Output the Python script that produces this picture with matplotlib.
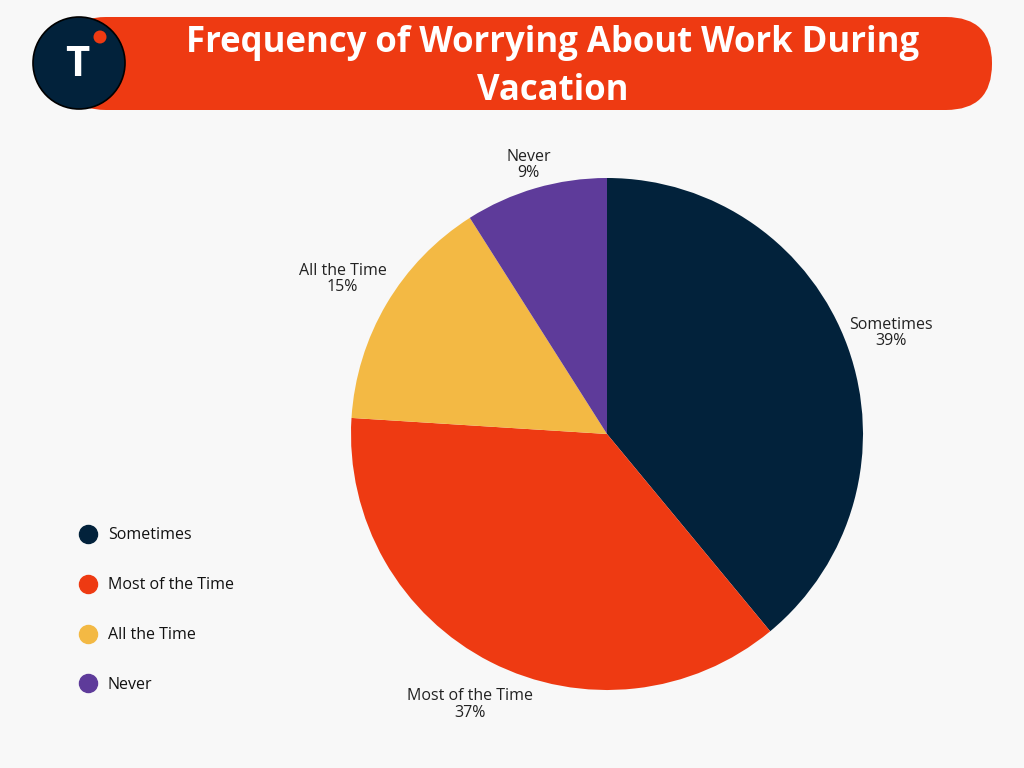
import numpy as np
import matplotlib.pyplot as plt
from matplotlib.patches import FancyBboxPatch, Circle
from matplotlib.lines import Line2D

# data
categories = ['Sometimes', 'Most of the Time', 'All the Time', 'Never']
shares = [39, 37, 15, 9]
colors = ['#02223b', '#ee3a12', '#f3b944', '#5e3b9a']

title = 'Frequency of Worrying About Work During\nVacation'
bg = '#f8f8f8'

plt.rcParams['font.family'] = ['Open Sans', 'DejaVu Sans']

fig = plt.figure(figsize=(10.24, 7.68), dpi=100, facecolor=bg)

# header layer in pixel coords
hdr = fig.add_axes([0, 0, 1, 1])
hdr.set_xlim(0, 1024)
hdr.set_ylim(768, 0)
hdr.axis('off')
hdr.add_patch(FancyBboxPatch((60, 17), 932, 93,
                             boxstyle='round,pad=0,rounding_size=46',
                             fc='#ee3a12', ec='none'))
hdr.add_patch(Circle((79, 63), 46, fc='#02223b', ec='black', lw=1.2))
hdr.add_patch(Circle((100, 37), 6.5, fc='#ee3a12', ec='none'))
hdr.text(77, 66, 'T', color='white', fontsize=30, fontweight='bold',
         ha='center', va='center')
hdr.text(553, 67, title, color='white', fontsize=25, fontweight='bold',
         ha='center', va='center', linespacing=1.47)

# pie
ax = fig.add_axes([(607 - 256) / 1024, (768 - 434 - 256) / 768, 512 / 1024, 512 / 768])
labels = [f'{c}\n{s}%' for c, s in zip(categories, shares)]
wedges, texts = ax.pie(shares, colors=colors, startangle=90, counterclock=False,
                       labels=labels,
                       textprops=dict(fontsize=11.5, color='#222222', linespacing=1.05))
# label distance per wedge, as placed in the original
label_dist = [1.18, 1.18, 1.2, 1.10]
for w, t, d in zip(wedges, texts, label_dist):
    ang = np.deg2rad((w.theta1 + w.theta2) / 2)
    t.set_position((d * np.cos(ang), d * np.sin(ang) - 0.005))
    t.set_ha('center')
    t.set_va('center')
ax.set_xlim(-1, 1)
ax.set_ylim(-1, 1)
ax.set_aspect('equal')

# legend
handles = [Line2D([], [], marker='o', ls='none', ms=13, mfc=c, mec=c) for c in colors]
fig.legend(handles, categories, loc='upper left', bbox_to_anchor=(64 / 1024, 1 - 513 / 768),
           frameon=False, fontsize=11.5, labelspacing=2.12, handletextpad=0.65,
           handlelength=1.2, labelcolor='#111111')

fig.savefig('out.png', dpi=100, facecolor=bg)
